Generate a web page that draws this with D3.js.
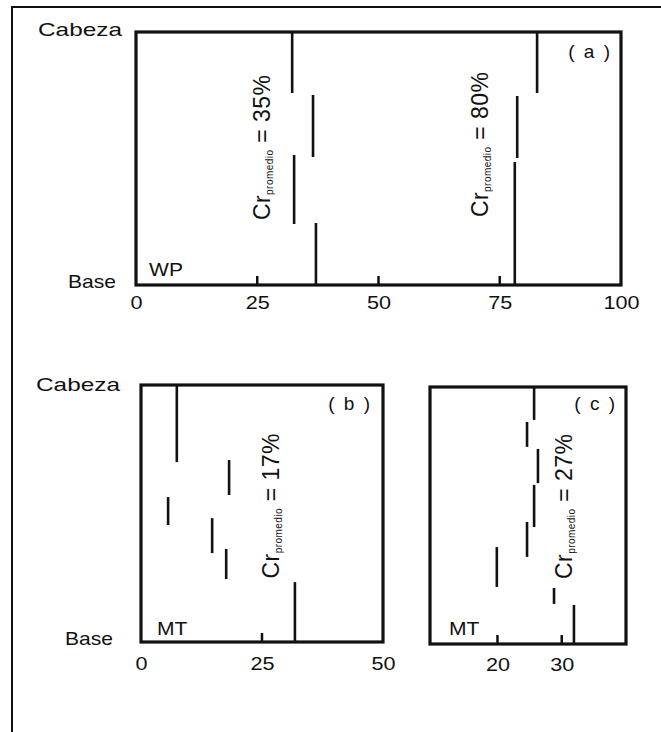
<!DOCTYPE html>
<html><head><meta charset="utf-8">
<script src="https://cdn.jsdelivr.net/npm/d3@7"></script>
<style>
body{margin:0;background:#fff}
svg{display:block}
text{font-family:"Liberation Sans",Arial,Helvetica,sans-serif;fill:#111}
</style>
</head><body>
<svg id="chart" width="661" height="732"></svg>
<script>
// Tick labels
const ticksA = [0, 25, 50, 75, 100];
const ticksB = [0, 25, 50];
const ticksC = [20, 30];
// Segments: [Cr %, height fraction top, height fraction bottom] (0 = Base, 1 = Cabeza)
const aCr35 = [[32.2, 1.00, 0.759], [36.5, 0.751, 0.506], [32.6, 0.514, 0.241], [37.1, 0.245, 0]];
const aCr80 = [[82.7, 1.00, 0.759], [78.6, 0.747, 0.502], [78.1, 0.486, 0]];
const bCr17 = [[7.4, 1.00, 0.700], [18.2, 0.708, 0.572], [5.6, 0.564, 0.455], [14.7, 0.482, 0.346], [17.6, 0.362, 0.245], [31.8, 0.233, 0]];
const cCr27 = [[25.7, 1.00, 0.872], [24.6, 0.864, 0.767], [26.3, 0.759, 0.626], [25.7, 0.619, 0.455], [24.6, 0.475, 0.339], [19.9, 0.377, 0.222], [28.8, 0.218, 0.156], [31.9, 0.152, 0]];
// Averages
const avgA = ['35%', '80%'];
const avgB = ['17%'];
const avgC = ['27%'];

const svg = d3.select('#chart');

// outer frame (cropped)
svg.append('rect').attr('x', 12).attr('y', 7).attr('width', 760).attr('height', 800)
  .attr('fill', 'none').attr('stroke', '#111').attr('stroke-width', 2);

function stretch(sel, f) {
  sel.each(function () {
    const l = this.getComputedTextLength();
    d3.select(this).attr('textLength', l * f).attr('lengthAdjust', 'spacingAndGlyphs');
  });
}

const panels = [
  {domain: [0, 100], xr: [136, 621], yr: [285, 32], ticks: ticksA, marks: [25, 50, 75], pad: 11,
   series: [aCr35, aCr80], avg: avgA, lab: [[27.6, 0.543], [72.6, 0.555]],
   tag: '( a )', tagDx: -9, tagDy: 26, site: 'WP', siteDx: 13, siteDy: -9,
   cab: [122, 36], base: [116, 288]},
  {domain: [0, 50], xr: [141, 383], yr: [642, 385], ticks: ticksB, marks: [25], pad: 15,
   series: [bCr17], avg: avgB, lab: [[28.5, 0.529]],
   tag: '( b )', tagDx: -11, tagDy: 25, site: 'MT', siteDx: 16, siteDy: -7,
   cab: [120, 391], base: [113, 645]},
  {domain: [9.5, 40], xr: [430, 626], yr: [644, 387], ticks: ticksC, marks: [20, 30], pad: 14,
   series: [cCr27], avg: avgC, lab: [[31.6, 0.535]],
   tag: '( c )', tagDx: -9, tagDy: 23, site: 'MT', siteDx: 19, siteDy: -9,
   cab: null, base: null}
];

panels.forEach(p => {
  const x = d3.scaleLinear().domain(p.domain).range(p.xr);
  const y = d3.scaleLinear().domain([0, 1]).range(p.yr);
  const g = svg.append('g');

  // axis ticks & labels
  const ax = g.append('g').attr('transform', `translate(0,${y(0)})`)
    .call(d3.axisBottom(x).tickValues(p.ticks).tickSize(0).tickPadding(p.pad).tickFormat(d3.format('d')));
  ax.select('.domain').remove();
  ax.selectAll('text').attr('font-size', 18).attr('fill', '#111').style('font-family', '"Liberation Sans",Arial,sans-serif');
  stretch(ax.selectAll('text'), 1.2);
  g.selectAll('line.tk').data(p.marks).join('line')
    .attr('x1', d => x(d)).attr('x2', d => x(d)).attr('y1', y(0)).attr('y2', y(0) - 9)
    .attr('stroke', '#111').attr('stroke-width', 2.5);

  // segments
  p.series.forEach(s => {
    g.selectAll(null).data(s).join('line')
      .attr('x1', d => x(d[0])).attr('x2', d => x(d[0]))
      .attr('y1', d => y(d[1])).attr('y2', d => y(d[2]))
      .attr('stroke', '#111').attr('stroke-width', 2.6);
  });

  // frame
  g.append('rect').attr('x', x(p.domain[0])).attr('y', y(1))
    .attr('width', x(p.domain[1]) - x(p.domain[0])).attr('height', y(0) - y(1))
    .attr('fill', 'none').attr('stroke', '#111').attr('stroke-width', 3.2);

  // averages labels (rotated)
  p.avg.forEach((v, i) => {
    const [lx, ly] = p.lab[i];
    const t = g.append('text').attr('font-size', 23).attr('text-anchor', 'middle')
      .attr('transform', `translate(${x(lx)},${y(ly)}) rotate(-90)`)
      .attr('textLength', 145).attr('lengthAdjust', 'spacing');
    t.append('tspan').text('Cr');
    t.append('tspan').attr('font-size', 10).attr('dy', 3).text('promedio');
    t.append('tspan').attr('dy', -3).text(' = ' + v);
  });

  // panel tag
  g.append('text').attr('x', x(p.domain[1]) + p.tagDx).attr('y', y(1) + p.tagDy)
    .attr('text-anchor', 'end').attr('font-size', 19).attr('letter-spacing', 2).text(p.tag);

  // site label
  const st = g.append('text').attr('x', x(p.domain[0]) + p.siteDx).attr('y', y(0) + p.siteDy)
    .attr('font-size', 18).text(p.site);
  stretch(st, 1.17);

  if (p.cab) {
    g.append('text').attr('x', p.cab[0]).attr('y', p.cab[1]).attr('text-anchor', 'end')
      .attr('font-size', 19).attr('textLength', 84).attr('lengthAdjust', 'spacingAndGlyphs').text('Cabeza');
    g.append('text').attr('x', p.base[0]).attr('y', p.base[1]).attr('text-anchor', 'end')
      .attr('font-size', 19).attr('textLength', 48).attr('lengthAdjust', 'spacingAndGlyphs').text('Base');
  }
});
</script>
</body></html>
